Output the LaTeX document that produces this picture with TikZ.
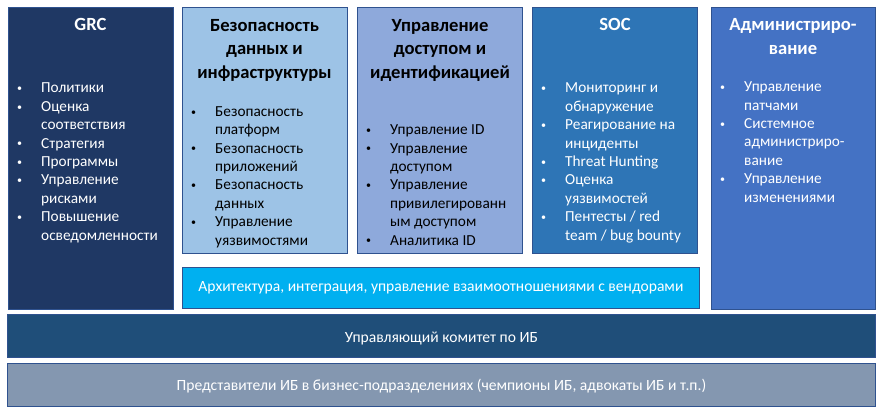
\documentclass[tikz,border=0pt]{standalone}
\usepackage{fontspec}
\setmainfont{Carlito}
\usepackage{tikz}
\usetikzlibrary{positioning}
\definecolor{isnavy}{RGB}{31,56,100}
\definecolor{islight}{RGB}{157,195,230}
\definecolor{isperi}{RGB}{142,169,219}
\definecolor{issoc}{RGB}{46,117,182}
\definecolor{isadmin}{RGB}{68,114,196}
\definecolor{iscyan}{RGB}{0,176,240}
\definecolor{iscomm}{RGB}{31,78,121}
\definecolor{isreps}{RGB}{132,151,176}
\definecolor{isline}{RGB}{47,82,143}
\newcommand{\itm}[1]{\makebox[24pt][l]{\raisebox{1.2pt}{\fontsize{10}{10}\selectfont\textbullet}}#1}
\newcommand{\cnt}[1]{\hspace*{24pt}#1}

\begin{document}
\begin{tikzpicture}[x=1pt,y=-1pt,
  block/.style={draw=isline,line width=0.8pt,anchor=north west,inner sep=0pt,minimum width=#1},
  block/.default=165pt,
  head/.style={anchor=base,align=center,inner sep=0pt,font=\fontsize{18.6}{23.5}\selectfont\bfseries},
  items/.style={anchor=base west,align=left,inner sep=0pt,font=\fontsize{15.3}{18.4}\selectfont},
  bar/.style={font=\fontsize{15.6}{18}\selectfont,text=white}]
\useasboundingbox (0,0) rectangle (881,413);

\node[block,fill=isnavy,minimum height=302pt] (grc) at (8,7) {};
\node[block,fill=islight,minimum height=246pt] (infra) at (182,7) {};
\node[block,fill=isperi,minimum height=246pt] (iam) at (357,7) {};
\node[block,fill=issoc,minimum height=246pt] (soc) at (532,7) {};
\node[block=164pt,fill=isadmin,minimum height=302pt] (admin) at (711,7) {};
\node[block=517pt,fill=iscyan,minimum height=41pt] (arch) at (182,267) {};
\node[block=868pt,fill=iscomm,minimum height=43pt] (comm) at (7,314) {};
\node[block=868pt,fill=isreps,minimum height=43pt] (reps) at (7,363) {};

% base anchor of a multi-line node sits on its last line
\node[head,text=white] (grchead) at (90.5,30) {GRC};
\node[head] (infrahead) at (264.5,78) {Безопасность\\данных и\\инфраструктуры};
\node[head] (iamhead) at (440,78) {Управление\\доступом и\\идентификацией};
\node[head,text=white] (sochead) at (615,30) {SOC};
\node[head,text=white] (adminhead) at (793,54) {Администриро-\\вание};

\node[items,text=white] (grclist) at (17,240) {\itm{Политики}\\ \itm{Оценка}\\ \cnt{соответствия}\\ \itm{Стратегия}\\ \itm{Программы}\\ \itm{Управление}\\ \cnt{рисками}\\ \itm{Повышение}\\ \cnt{осведомленности}};
\node[items] (infralist) at (191,245) {\itm{Безопасность}\\ \cnt{платформ}\\ \itm{Безопасность}\\ \cnt{приложений}\\ \itm{Безопасность}\\ \cnt{данных}\\ \itm{Управление}\\ \cnt{уязвимостями}};
\node[items] (iamlist) at (366,245) {\itm{Управление ID}\\ \itm{Управление}\\ \cnt{доступом}\\ \itm{Управление}\\ \cnt{привилегированн}\\ \cnt{ым доступом}\\ \itm{Аналитика ID}};
\node[items,text=white] (soclist) at (541,240) {\itm{Мониторинг и}\\ \cnt{обнаружение}\\ \itm{Реагирование на}\\ \cnt{инциденты}\\ \itm{Threat Hunting}\\ \itm{Оценка}\\ \cnt{уязвимостей}\\ \itm{Пентесты / red}\\ \cnt{team / bug bounty}};
\node[items,text=white] (adminlist) at (720,202) {\itm{Управление}\\ \cnt{патчами}\\ \itm{Системное}\\ \cnt{администриро-}\\ \cnt{вание}\\ \itm{Управление}\\ \cnt{изменениями}};

\node[bar] (archtext) at (arch.center) {Архитектура, интеграция, управление взаимоотношениями с вендорами};
\node[bar] (commtext) at ([yshift=-3pt]comm.center) {Управляющий комитет по ИБ};
\node[bar] (repstext) at ([yshift=-1pt]reps.center) {Представители ИБ в бизнес-подразделениях (чемпионы ИБ, адвокаты ИБ и т.п.)};
\end{tikzpicture}
\end{document}
